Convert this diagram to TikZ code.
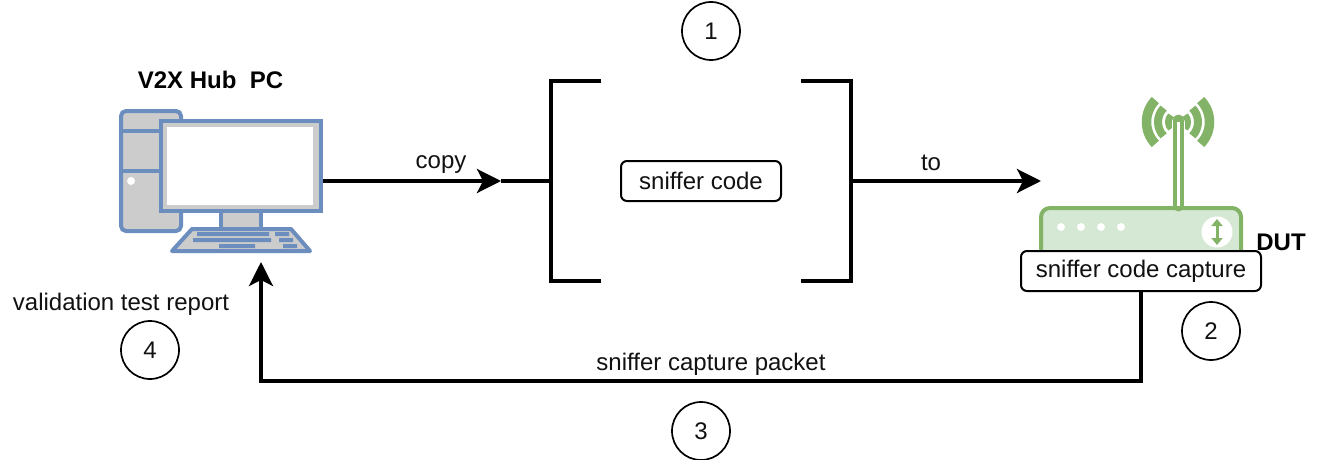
\documentclass[tikz,border=0pt]{standalone}
\usepackage{fontspec}
\setmainfont{Liberation Sans}
\usetikzlibrary{arrows.meta}
\definecolor{pcblue}{HTML}{6C8EBF}
\definecolor{pcgray}{HTML}{CCCCCC}
\definecolor{rgreen}{HTML}{82B366}
\definecolor{rfill}{HTML}{D5E8D4}
\definecolor{ink}{HTML}{111111}
\newcommand{\lowered}[1]{\raisebox{-1.5pt}{#1}}
\tikzset{
  lbl/.style={inner sep=0pt,font=\fontsize{24}{28}\selectfont,text=ink},
  blbl/.style={inner sep=0pt,font=\fontsize{24}{28}\selectfont\bfseries,text=black},
  codebox/.style={draw=black,line width=2pt,rounded corners=6pt,fill=white,inner sep=0pt,font=\fontsize{24}{28}\selectfont,text=ink},
  stepmark/.style={draw=black,line width=1.7pt,circle,minimum size=58pt,inner sep=0pt,font=\fontsize{24}{28}\selectfont,text=ink},
  flow/.style={draw=black,line width=3.6pt,-{Stealth[length=24pt,width=24pt,inset=6pt]}},
  plain/.style={draw=black,line width=3.6pt},
  pcpart/.style={draw=pcblue,line width=4pt,fill=pcgray},
  pckey/.style={fill=pcblue,draw=none},
  wave/.style={draw=rgreen,line cap=butt},
}
\begin{document}
\begin{tikzpicture}[x=1pt,y=-1pt]
\useasboundingbox (0,0) rectangle (1322,460);
\fill[white] (0,0) rectangle (1322,460);
% --- PC
\draw[pcpart,rounded corners=5pt] (121,111) rectangle (181,231);
\draw[pcblue,line width=4pt] (121,131) -- (181,131) (121,171) -- (181,171);
\fill[white] (131,181) circle (4);
\draw[pcpart] (221,211) rectangle (261,230);
\draw[pcpart,line join=round] (192,229) -- (291,229) -- (310,251) -- (172,251) -- cycle;
\fill[pckey] (197,232) rectangle (269,236) (275,232) rectangle (289,236)
             (193,238) rectangle (271,242) (279,238) rectangle (293,242)
             (219,244) rectangle (255,248) (283,244) rectangle (297,248);
\node[draw=pcblue,line width=4pt,fill=pcgray,minimum width=160pt,minimum height=90pt,inner sep=0pt] (mon) at (241,166) {};
\node[fill=white,minimum width=146pt,minimum height=78pt,inner sep=0pt] (screen) at (240,166) {};
\node[blbl] (pclabel) at (210.5,80) {V2X Hub\ \ PC};
% --- brackets
\draw[plain] (601,81) -- (551,81) -- (551,281) -- (601,281);
\draw[plain] (801,81) -- (851,81) -- (851,281) -- (801,281);
\coordinate (lbr) at (551,181);
\coordinate (rbr) at (851,181);
\coordinate (copyend) at (501,181);
\coordinate (toend) at (1041,181);
\node[codebox,minimum width=160pt,minimum height=40pt] (code) at (701,181) {\lowered{sniffer code}};
% --- router
\draw[draw=rgreen,line width=4pt,fill=rfill,rounded corners=9pt] (1041,208) rectangle (1241,262);
\foreach \x in {1061,1081,1101,1121} \fill[white] (\x,227) circle (4);
\fill[white] (1217,232) circle (15.5);
\draw[rgreen,line width=3pt,{Stealth[length=7pt,width=11pt,inset=0pt]}-{Stealth[length=7pt,width=11pt,inset=0pt]}] (1217,219) -- (1217,245);
\foreach \r/\w in {9.5/7,20/8,31.5/9.5}{
  \draw[wave,line width=\w pt] (1178,122) ++(-44:\r) arc (-44:44:\r);
  \draw[wave,line width=\w pt] (1178,122) ++(136:\r) arc (136:224:\r);
}
\draw[white,line width=13pt,line cap=round] (1178.5,123) -- (1178.5,150);
\draw[rgreen,line width=11pt,line cap=round] (1178.5,120) -- (1178.5,206);
\draw[white,line width=2.5pt] (1178.5,122) -- (1178.5,206);
\node[codebox,minimum width=240pt,minimum height=40pt] (capture) at (1141,271) {\lowered{sniffer code capture}};
\node[blbl] (dut) at (1281,242) {DUT};
% --- connectors
\draw[flow] (mon.east |- copyend) -- (copyend);
\draw[plain] (copyend) -- (lbr);
\draw[flow] (rbr) -- (toend);
\coordinate (pcin) at (261,262);
\draw[flow] (capture.south) -- (1141,381) -- (261,381) -- (pcin);
% --- labels
\node[lbl] (copy) at (441,165) {copy};
\node[lbl] (to) at (931,163) {to};
\node[lbl] (report) at (121,304) {validation test report};
\node[lbl] (packet) at (711,364) {sniffer capture packet};
\node[stepmark] (s1) at (711,31) {\lowered{1}};
\node[stepmark] (s2) at (1211,331) {\lowered{2}};
\node[stepmark] (s3) at (701,431) {\lowered{3}};
\node[stepmark] (s4) at (150,350) {\lowered{4}};
\end{tikzpicture}
\end{document}
